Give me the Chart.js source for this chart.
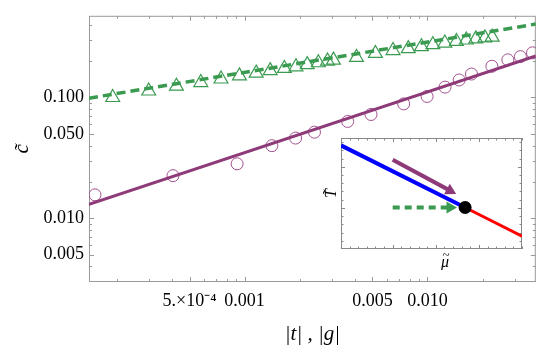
<!DOCTYPE html>
<html>
<head>
<meta charset="utf-8">
<script src="https://cdn.jsdelivr.net/npm/chart.js@4.4.0/dist/chart.umd.min.js"></script>
<style>
    body { margin: 0; background: #fff; }
    #wrap { position: relative; width: 545px; height: 354px; }
    #main { position: absolute; left: 0; top: 0; }
    #inset { position: absolute; left: 320px; top: 130px; }
</style>
</head>
<body>
<div id="wrap">
    <canvas id="main" width="545" height="354"></canvas>
    <canvas id="inset" width="210" height="140"></canvas>
</div>
<script>
// |t| data (circles) and its fit
const tVals = [1.52e-4, 4.06e-4, 9.1e-4, 1.41e-3, 1.90e-3, 2.41e-3, 3.66e-3, 4.91e-3, 7.41e-3, 0.00995,
               0.01247, 0.0149, 0.0174, 0.0225, 0.0275, 0.0322, 0.0375];
const cT = [0.0156, 0.0225, 0.0282, 0.0399, 0.0461, 0.0516, 0.0633, 0.0723, 0.0885, 0.102,
            0.1218, 0.1397, 0.1564, 0.1814, 0.205, 0.218, 0.2344];

// |g| data (triangles) and its fit
const gVals = [1.90e-4, 2.99e-4, 4.24e-4, 5.76e-4, 7.43e-4, 9.37e-4, 1.157e-3, 1.38e-3, 1.65e-3, 1.91e-3,
               2.20e-3, 2.53e-3, 2.84e-3, 3.06e-3, 4.09e-3, 5.19e-3, 6.48e-3, 7.85e-3, 9.27e-3, 0.0107,
               0.01244, 0.01439, 0.0163, 0.01837, 0.0206, 0.02257];
const cG = [0.100, 0.1132, 0.124, 0.133, 0.1423, 0.151, 0.159, 0.167, 0.174, 0.1795,
            0.187, 0.194, 0.2003, 0.204, 0.2147, 0.2317, 0.2447, 0.254, 0.2634, 0.2737,
            0.2824, 0.2913, 0.2994, 0.306, 0.312, 0.316];

const fitX = [1.41e-4, 0.0391];
const fitT = [0.0130, 0.221];
const fitG = [0.0987, 0.4055];

// axis ticks
const xTickVals = [2e-4, 3e-4, 4e-4, 5e-4, 6e-4, 7e-4, 8e-4, 9e-4, 1e-3, 2e-3, 3e-3, 4e-3, 5e-3,
                   6e-3, 7e-3, 8e-3, 9e-3, 1e-2, 2e-2, 3e-2];
const xLabelVals = [5e-4, 1e-3, 5e-3, 1e-2];
const xLabelText = ["5.×10⁻⁴", "0.001", "0.005", "0.010"];
const yTickVals = [0.003, 0.004, 0.005, 0.006, 0.007, 0.008, 0.009, 0.01, 0.02, 0.03, 0.04, 0.05,
                   0.06, 0.07, 0.08, 0.09, 0.1, 0.2, 0.3, 0.4];
const yLabelVals = [0.005, 0.01, 0.05, 0.1];
const yLabelText = ["0.005", "0.010", "0.050", "0.100"];

// inset sketch (arbitrary units)
const blueX = [-1.2, 1.68], blueY = [2.52, 1.01];
const redX = [1.68, 3.0], redY = [1.01, 0.31];
const purpArrowX = [0, 1.33], purpArrowY = [2.17, 1.42];
const greenArrowX = [0, 1.33], greenArrowY = [1.01, 1.01];
const dotX = [1.68], dotY = [1.01];
const insetXTicks = [-1.2, -1, -0.8, -0.6, -0.4, -0.2, 0, 0.2, 0.4, 0.6, 0.8, 1, 1.2, 1.4, 1.6, 1.8, 2, 2.2, 2.4, 2.6, 2.8, 3];
const insetXMajor = [0, 1, 2];
const insetYTicks = [0.2, 0.4, 0.6, 0.8, 1, 1.2, 1.4, 1.6, 1.8, 2, 2.2, 2.4, 2.6];
const insetYMajor = [1, 2];

const PURPLE = "#8e3a78";
const PURPLE_PT = "#a2508e";
const GREEN = "#3a9a50";

Chart.defaults.font.family = "'Liberation Serif', 'Times New Roman', serif";
Chart.defaults.color = "#000";

const pts = (xs, ys) => xs.map((x, i) => ({ x: x, y: ys[i] }));
const near = (a, b) => Math.abs(a - b) <= Math.abs(b) * 1e-6;

// frame with inward ticks on all four sides
function frameTicks(xt, xm, yt, ym, color, minorLen, majorLen) {
    return {
        id: "frameTicks",
        beforeDatasetsDraw(chart) {
            const { ctx, chartArea: a, scales } = chart;
            ctx.save();
            ctx.strokeStyle = color;
            ctx.lineWidth = 1;
            ctx.strokeRect(a.left + 0.5, a.top + 0.5, a.right - a.left - 1, a.bottom - a.top - 1);
            ctx.beginPath();
            xt.forEach(v => {
                const px = Math.round(scales.x.getPixelForValue(v)) + 0.5;
                const len = xm.some(m => near(v, m)) ? majorLen : minorLen;
                ctx.moveTo(px, a.bottom); ctx.lineTo(px, a.bottom - len);
                ctx.moveTo(px, a.top); ctx.lineTo(px, a.top + len);
            });
            yt.forEach(v => {
                const py = Math.round(scales.y.getPixelForValue(v)) + 0.5;
                const len = ym.some(m => near(v, m)) ? majorLen : minorLen;
                ctx.moveTo(a.left, py); ctx.lineTo(a.left + len, py);
                ctx.moveTo(a.right, py); ctx.lineTo(a.right - len, py);
            });
            ctx.stroke();
            ctx.restore();
        }
    };
}

new Chart(document.getElementById("main"), {
    type: "scatter",
    data: {
        datasets: [
            {
                data: pts(fitX, fitT), showLine: true, borderColor: PURPLE, borderWidth: 3,
                pointRadius: 0, order: 0, clip: 0
            },
            {
                data: pts(fitX, fitG), showLine: true, borderColor: GREEN, borderWidth: 3.5,
                borderDash: [9, 5], pointRadius: 0, order: 0, clip: 0
            },
            {
                data: pts(tVals, cT), pointStyle: "circle", pointRadius: 6, borderColor: PURPLE_PT,
                pointBorderWidth: 1, backgroundColor: "rgba(0,0,0,0)", order: 1, clip: 0
            },
            {
                data: pts(gVals, cG), pointStyle: "triangle", pointRadius: 8, borderColor: GREEN,
                pointBorderWidth: 1.2, backgroundColor: "rgba(0,0,0,0)", order: 1, clip: 0
            }
        ]
    },
    options: {
        responsive: false,
        devicePixelRatio: 1,
        animation: false,
        layout: { padding: { left: 0, right: 7, top: 4, bottom: 0 } },
        plugins: { legend: { display: false }, tooltip: { enabled: false } },
        scales: {
            x: {
                type: "logarithmic",
                min: 1.41e-4,
                max: 0.0391,
                afterBuildTicks: s => { s.ticks = xTickVals.map(v => ({ value: v })); },
                afterFit: s => { s.height = 72; },
                grid: { display: false, drawTicks: false },
                border: { display: false },
                ticks: {
                    autoSkip: false, maxRotation: 0, padding: 8,
                    font: { size: 18 },
                    callback: v => {
                        const i = xLabelVals.findIndex(t => near(v, t));
                        return i >= 0 ? xLabelText[i] : "";
                    }
                },
                title: {
                    display: true, text: "|t| , |g|",
                    font: { size: 21, style: "italic" },
                    padding: { top: 0, bottom: 7 }
                }
            },
            y: {
                type: "logarithmic",
                min: 0.00296,
                max: 0.475,
                afterBuildTicks: s => { s.ticks = yTickVals.map(v => ({ value: v })); },
                afterFit: s => { s.width = 89; },
                grid: { display: false, drawTicks: false },
                border: { display: false },
                ticks: {
                    autoSkip: false, padding: 5,
                    font: { size: 18 },
                    callback: v => {
                        const i = yLabelVals.findIndex(t => near(v, t));
                        return i >= 0 ? yLabelText[i] : "";
                    }
                },
                title: {
                    display: true, text: "c\u0303",
                    font: { size: 21, style: "italic" },
                    padding: { top: 10, bottom: 0 }
                }
            }
        }
    },
    plugins: [frameTicks(xTickVals, xLabelVals, yTickVals, yLabelVals, "#9a9a9a", 3, 5)]
});

// inset axis labels
const insetLabels = {
    id: "insetLabels",
    beforeDraw(chart) {
        const { ctx, chartArea: a } = chart;
        ctx.save();
        ctx.fillStyle = "#fff";
        ctx.fillRect(a.left, a.top, a.right - a.left, a.bottom - a.top);
        ctx.restore();
    },
    afterDraw(chart) {
        const { ctx, chartArea: a } = chart;
        const mx = a.left + (a.right - a.left) * 0.575;
        ctx.save();
        ctx.fillStyle = "#000";
        ctx.font = "italic 16px 'Liberation Serif'";
        ctx.textAlign = "center";
        ctx.textBaseline = "alphabetic";
        ctx.fillText("\u03bc", mx, a.bottom + 18);
        ctx.font = "13px 'Liberation Serif'";
        ctx.fillText("~", mx + 1, a.bottom + 10);
        ctx.font = "italic 16px 'Liberation Serif'";
        ctx.textBaseline = "middle";
        ctx.translate(a.left - 9, (a.top + a.bottom) / 2);
        ctx.rotate(-Math.PI / 2);
        ctx.fillText("T\u0303", 0, 0);
        ctx.restore();
    }
};

new Chart(document.getElementById("inset"), {
    type: "scatter",
    data: {
        datasets: [
            { data: pts(blueX, blueY), showLine: true, borderColor: "#0000ff", borderWidth: 4, pointRadius: 0 },
            { data: pts(redX, redY), showLine: true, borderColor: "#ff0000", borderWidth: 3, pointRadius: 0 },
            {
                data: pts(purpArrowX, purpArrowY), showLine: true, borderColor: PURPLE, borderWidth: 4,
                pointStyle: "triangle", pointRadius: [0, 7], pointRotation: [0, 118],
                pointBackgroundColor: PURPLE, pointBorderColor: PURPLE, pointBorderWidth: 0
            },
            {
                data: pts(greenArrowX, greenArrowY), showLine: true, borderColor: GREEN, borderWidth: 4,
                borderDash: [7, 5],
                pointStyle: "triangle", pointRadius: [0, 7], pointRotation: [0, 90],
                pointBackgroundColor: GREEN, pointBorderColor: GREEN, pointBorderWidth: 0
            },
            {
                data: pts(dotX, dotY), pointRadius: 6.5, pointBackgroundColor: "#000",
                pointBorderColor: "#000", pointBorderWidth: 0, order: -1
            }
        ]
    },
    options: {
        responsive: false,
        devicePixelRatio: 1,
        animation: false,
        layout: { padding: { left: 0, right: 8, top: 8, bottom: 0 } },
        plugins: { legend: { display: false }, tooltip: { enabled: false } },
        scales: {
            x: {
                type: "linear", min: -1.2, max: 3.0,
                afterFit: s => { s.height = 21; },
                grid: { display: false }, border: { display: false },
                ticks: { display: false }
            },
            y: {
                type: "linear", min: 0, max: 2.7,
                afterFit: s => { s.width = 21; },
                grid: { display: false }, border: { display: false },
                ticks: { display: false }
            }
        }
    },
    plugins: [insetLabels, frameTicks(insetXTicks, insetXMajor, insetYTicks, insetYMajor, "#888", 2.5, 4)]
});
</script>
</body>
</html>
